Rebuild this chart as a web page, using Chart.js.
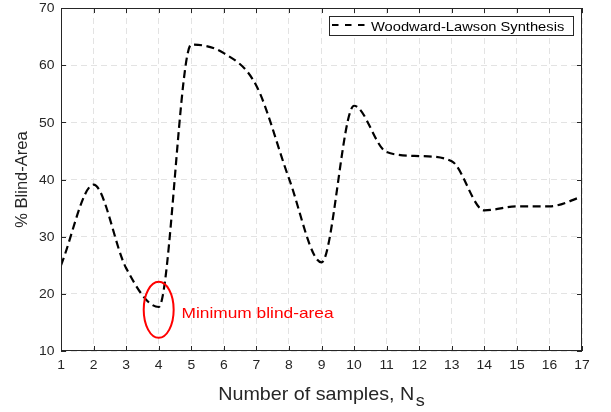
<!DOCTYPE html>
<html>
<head>
<meta charset="utf-8">
<script src="https://cdn.jsdelivr.net/npm/chart.js@4/dist/chart.umd.min.js"></script>
<style>
html,body{margin:0;padding:0;background:#fff;}
#wrap{width:611px;height:412px;position:relative;}
</style>
</head>
<body>
<div id="wrap"><canvas id="c" width="611" height="412"></canvas></div>
<script>
// ---- data ----
const samples = [1,2,3,4,5,6,7,8,9,10,11,12,13,14,15,16,17];
const blindArea = [25.0,39.1,24.5,17.7,63.6,62.1,56.4,40.2,25.5,52.9,44.8,44.1,43.2,34.6,35.3,35.3,37.0];
const xTicks = [1,2,3,4,5,6,7,8,9,10,11,12,13,14,15,16,17];
const yTicks = [10,20,30,40,50,60,70];
const seriesLabel = 'Woodward-Lawson Synthesis';
const xTitle = 'Number of samples, N';
const xTitleSub = 's';
const yTitle = '% Blind-Area';
const noteText = 'Minimum blind-area';
const noteCenter = [4, 17.2];     // data coords
const noteRadii = [0.46, 4.9];    // data units

const FONT = '"Liberation Sans", Arial, Helvetica, sans-serif';
const TXT = '#262626';

function drawText(ctx, s, x, y, size, sx, align, base, color) {
  ctx.save();
  ctx.font = size + 'px ' + FONT;
  ctx.fillStyle = color;
  ctx.textAlign = align;
  ctx.textBaseline = base;
  ctx.translate(x, y);
  ctx.scale(sx, 1);
  ctx.fillText(s, 0, 0);
  ctx.restore();
}

const overlay = {
  id: 'overlay',
  afterDraw(chart) {
    const {ctx, chartArea: a, scales: {x, y}} = chart;
    ctx.save();
    // box
    ctx.strokeStyle = TXT;
    ctx.lineWidth = 1;
    ctx.setLineDash([]);
    ctx.strokeRect(a.left + 0.5, a.top + 0.5, a.right - a.left - 1, a.bottom - a.top - 1);
    // inward ticks on all sides
    ctx.beginPath();
    xTicks.forEach(v => {
      const px = Math.round(x.getPixelForValue(v)) + 0.5;
      ctx.moveTo(px, a.bottom); ctx.lineTo(px, a.bottom - 5);
      ctx.moveTo(px, a.top); ctx.lineTo(px, a.top + 5);
    });
    yTicks.forEach(v => {
      const py = Math.round(y.getPixelForValue(v)) + 0.5;
      ctx.moveTo(a.left, py); ctx.lineTo(a.left + 5, py);
      ctx.moveTo(a.right, py); ctx.lineTo(a.right - 5, py);
    });
    ctx.stroke();

    // tick labels
    yTicks.forEach(v => {
      drawText(ctx, String(v), a.left - 6.5, y.getPixelForValue(v) + 1, 12, 1.16, 'right', 'middle', TXT);
    });
    xTicks.forEach(v => {
      drawText(ctx, String(v), x.getPixelForValue(v), a.bottom + 15, 12, 1.16, 'center', 'middle', TXT);
    });

    // y title
    ctx.save();
    ctx.translate(22.5, (a.top + a.bottom) / 2);
    ctx.rotate(-Math.PI / 2);
    ctx.font = '16.5px ' + FONT;
    ctx.fillStyle = TXT;
    ctx.textAlign = 'center';
    ctx.textBaseline = 'middle';
    ctx.fillText(yTitle, 0, 0);
    ctx.restore();

    // x title with subscript
    const sxT = 1.065;
    ctx.font = '18.5px ' + FONT;
    const w1 = ctx.measureText(xTitle).width * sxT;
    ctx.font = '17px ' + FONT;
    const w2 = ctx.measureText(xTitleSub).width * sxT;
    const cx = (a.left + a.right) / 2;
    const startX = cx - (w1 + 1.5 + w2) / 2;
    drawText(ctx, xTitle, startX, 400, 18.5, sxT, 'left', 'alphabetic', TXT);
    drawText(ctx, xTitleSub, startX + w1 + 1.5, 405.5, 17, sxT, 'left', 'alphabetic', TXT);

    // legend
    const lx = 329, ly = 16, lw = 244, lh = 19;
    ctx.fillStyle = '#fff';
    ctx.fillRect(lx, ly, lw, lh);
    ctx.strokeStyle = TXT;
    ctx.lineWidth = 1;
    ctx.strokeRect(lx + 0.5, ly + 0.5, lw, lh);
    ctx.strokeStyle = '#000';
    ctx.lineWidth = 2;
    ctx.setLineDash([6.5, 6.5]);
    ctx.beginPath();
    ctx.moveTo(332, 25);
    ctx.lineTo(368, 25);
    ctx.stroke();
    ctx.setLineDash([]);
    drawText(ctx, seriesLabel, 371, 30.8, 13, 1.13, 'left', 'alphabetic', '#000');

    // annotation ellipse
    const ex = x.getPixelForValue(noteCenter[0]);
    const ey = y.getPixelForValue(noteCenter[1]);
    const rx = Math.abs(x.getPixelForValue(noteCenter[0] + noteRadii[0]) - ex);
    const ry = Math.abs(y.getPixelForValue(noteCenter[1] + noteRadii[1]) - ey);
    ctx.strokeStyle = '#ff0000';
    ctx.lineWidth = 2;
    ctx.beginPath();
    ctx.ellipse(ex, ey, rx, ry, 0, 0, Math.PI * 2);
    ctx.stroke();
    drawText(ctx, noteText, 181.5, 317.7, 15, 1.155, 'left', 'alphabetic', '#ff0000');
    ctx.restore();
  }
};

new Chart(document.getElementById('c'), {
  type: 'line',
  data: {
    datasets: [{
      label: seriesLabel,
      data: samples.map((s, i) => ({x: s, y: blindArea[i]})),
      borderColor: '#000',
      borderWidth: 2.2,
      borderDash: [8, 4.5],
      pointRadius: 0,
      fill: false,
      cubicInterpolationMode: 'monotone'
    }]
  },
  options: {
    responsive: false,
    animation: false,
    devicePixelRatio: 1,
    layout: {padding: {left: 0, right: 29, top: 8, bottom: 0}},
    plugins: {legend: {display: false}, tooltip: {enabled: false}},
    scales: {
      x: {
        type: 'linear', min: 1, max: 17,
        afterFit: s => { s.height = 61; },
        afterBuildTicks: s => { s.ticks = xTicks.map(v => ({value: v})); },
        grid: {color: '#e3e3e3', lineWidth: 1, drawTicks: false},
        border: {display: false, dash: [6, 4]},
        ticks: {display: false}
      },
      y: {
        min: 10, max: 70,
        afterFit: s => { s.width = 61; },
        afterBuildTicks: s => { s.ticks = yTicks.map(v => ({value: v})); },
        grid: {color: '#e3e3e3', lineWidth: 1, drawTicks: false},
        border: {display: false, dash: [6, 4]},
        ticks: {display: false}
      }
    }
  },
  plugins: [overlay]
});
</script>
</body>
</html>
